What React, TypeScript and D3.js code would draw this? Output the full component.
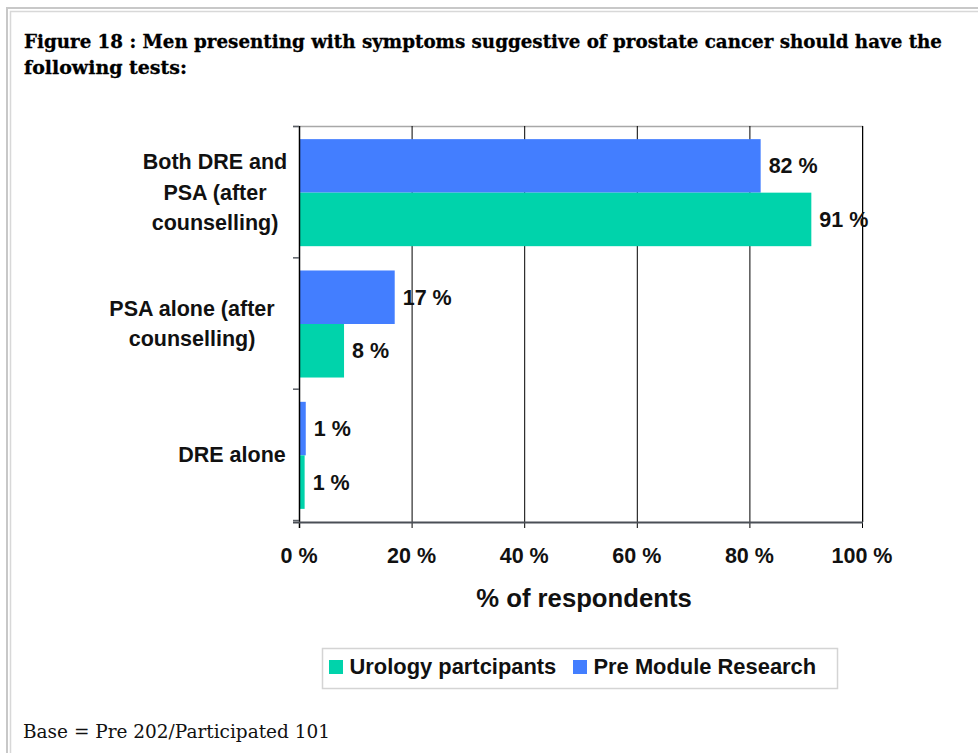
import React from "react";
import * as d3 from "d3";

const titleLines = [
  "Figure 18 : Men presenting with symptoms suggestive of prostate cancer should have the",
  "following tests:",
];
const categories = ["Both DRE and PSA (after counselling)", "PSA alone (after counselling)", "DRE alone"];
const categoryLines = [
  ["Both DRE and", "PSA (after", "counselling)"],
  ["PSA alone (after", "counselling)"],
  ["DRE alone"],
];
const seriesNames = ["Pre Module Research", "Urology partcipants"];
const preModule = [82, 17, 1.2];
const urology = [91, 8, 1];
const xTicks = [0, 20, 40, 60, 80, 100];
const axisTitle = "% of respondents";
const legendOrder = ["Urology partcipants", "Pre Module Research"];
const footer = "Base = Pre 202/Participated 101";

// layout constants
const W = 978, H = 753;
const PL = 299, PR = 862, PT = 126, PB = 522;
const labelCenterX = [215, 192, 232];
const colors: Record<string, string> = {
  "Pre Module Research": "#437eff",
  "Urology partcipants": "#00d3ab",
};
const sansBold = "'Liberation Sans', Arial, sans-serif";

export default function App() {
  const x = d3.scaleLinear().domain([0, 100]).range([PL, PR]);
  const y = d3.scaleBand<string>().domain(categories).range([PT, PB]).paddingInner(0.185).paddingOuter(0.1);
  const ySub = d3.scaleBand<string>().domain(seriesNames).range([0, y.bandwidth()]);
  const values: Record<string, number[]> = {
    "Pre Module Research": preModule,
    "Urology partcipants": urology,
  };
  const step = y.step();
  const boundaries = d3.range(categories.length + 1).map((i) => PT + i * step);
  const fmt = (v: number) => `${Math.round(v)} %`;

  return (
    <svg width={W} height={H} style={{ position: "absolute", left: 0, top: 0, background: "#fff" }}>
      <rect x={0} y={0} width={W} height={H} fill="#fff" />
      {/* outer double border */}
      <path d={`M7,${H} V8 H${W}`} fill="none" stroke="#c8c8c8" strokeWidth={2} />
      <path d={`M10.5,${H} V11.5 H${W}`} fill="none" stroke="#d8d8d8" strokeWidth={1.5} />

      {/* title */}
      <text fontFamily="'DejaVu Serif', serif" fontWeight="bold" fontSize={18.3} fill="#000" stroke="#000" strokeWidth={0.3}>
        <tspan x={24} y={48} textLength={918} lengthAdjust="spacingAndGlyphs">{titleLines[0]}</tspan>
        <tspan x={24} y={74} textLength={163} lengthAdjust="spacingAndGlyphs">{titleLines[1]}</tspan>
      </text>

      {/* plot frame top/right */}
      <line x1={293} x2={PR + 1} y1={PT + 0.5} y2={PT + 0.5} stroke="#a8a8a8" strokeWidth={1.5} />
      <line x1={PR + 1} x2={PR + 1} y1={PT} y2={PB} stroke="#a8a8a8" strokeWidth={1.5} />

      {/* gridlines + bottom ticks */}
      {xTicks.map((t) => (
        <line key={"g" + t} x1={x(t) + 0.5} x2={x(t) + 0.5} y1={PT} y2={PB + 6} stroke="#000" strokeWidth={1} />
      ))}

      {/* bars */}
      {categories.map((c, i) =>
        seriesNames.map((s) => (
          <rect
            key={c + s}
            x={x(0) + 1}
            y={(y(c) as number) + (ySub(s) as number)}
            width={x(values[s][i]) - x(0) - 1}
            height={ySub.bandwidth()}
            fill={colors[s]}
          />
        ))
      )}

      {/* left axis */}
      <line x1={PL + 0.5} x2={PL + 0.5} y1={PT} y2={PB + 6} stroke="#000" strokeWidth={1.5} />
      {boundaries.map((b, i) => (
        <line key={"lt" + i} x1={293} x2={PL} y1={b + 0.5} y2={b + 0.5} stroke="#5a5f66" strokeWidth={1.5} />
      ))}
      {/* bottom axis */}
      <line x1={293} x2={PR + 1} y1={PB + 0.5} y2={PB + 0.5} stroke="#4a4f56" strokeWidth={2} />

      {/* value labels */}
      {categories.map((c, i) =>
        seriesNames.map((s) => (
          <text
            key={"v" + c + s}
            x={x(values[s][i]) + 8}
            y={(y(c) as number) + (ySub(s) as number) + ySub.bandwidth() / 2 + 7.5}
            fontFamily={sansBold}
            fontWeight="bold"
            fontSize={21.5}
            fill="#111"
          >
            {fmt(values[s][i])}
          </text>
        ))
      )}

      {/* category labels */}
      {categories.map((c, i) => {
        const lines = categoryLines[i];
        const cy = (y(c) as number) + y.bandwidth() / 2;
        return (
          <text key={"cl" + c} fontFamily={sansBold} fontWeight="bold" fontSize={21.5} fill="#111" textAnchor="middle">
            {lines.map((l, j) => (
              <tspan key={j} x={labelCenterX[i]} y={cy + (j - (lines.length - 1) / 2) * 30.5 + 7}>
                {l}
              </tspan>
            ))}
          </text>
        );
      })}

      {/* x tick labels */}
      {xTicks.map((t) => (
        <text key={"xt" + t} x={x(t)} y={563} textAnchor="middle" fontFamily={sansBold} fontWeight="bold" fontSize={21.5} fill="#111">
          {t} %
        </text>
      ))}
      <text x={584} y={607} textAnchor="middle" fontFamily={sansBold} fontWeight="bold" fontSize={25.7} fill="#111">
        {axisTitle}
      </text>

      {/* legend */}
      <rect x={322.5} y={648.5} width={515} height={40} fill="#fff" stroke="#d4d4d4" strokeWidth={1.5} />
      {legendOrder.map((s, i) => {
        const lx = i === 0 ? 329 : 573;
        return (
          <g key={"lg" + s}>
            <rect x={lx} y={660} width={14} height={14} fill={colors[s]} />
            <text x={lx + 20.5} y={674} fontFamily={sansBold} fontWeight="bold" fontSize={21.9} fill="#111">
              {s}
            </text>
          </g>
        );
      })}

      {/* footer */}
      <text x={23} y={738} fontFamily="'DejaVu Serif', serif" fontSize={18} fill="#111" textLength={307} lengthAdjust="spacingAndGlyphs">
        {footer}
      </text>
    </svg>
  );
}
